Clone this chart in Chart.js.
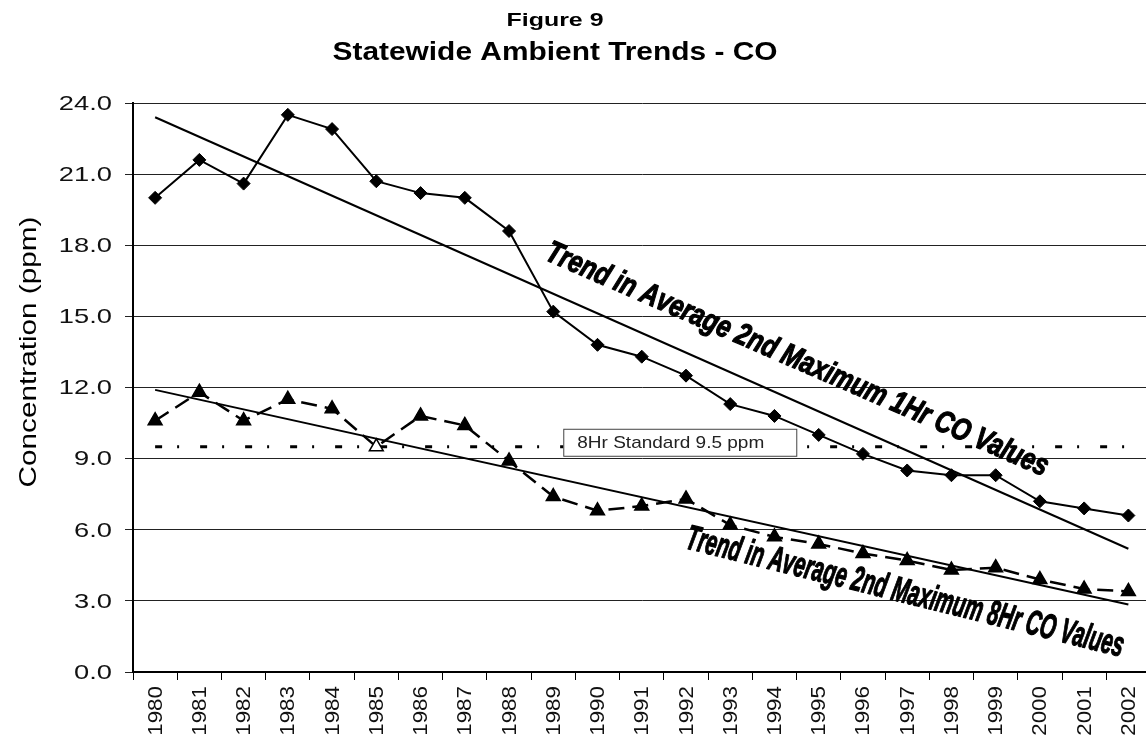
<!DOCTYPE html>
<html>
<head>
<meta charset="utf-8">
<title>Figure 9 - Statewide Ambient Trends - CO</title>
<script src="https://cdn.jsdelivr.net/npm/chart.js@4.4.1/dist/chart.umd.min.js"></script>
<style>
  html, body { margin: 0; padding: 0; background: #fff; overflow: hidden; }
  #wrap { position: relative; width: 1146px; height: 744px; overflow: hidden; }
  canvas { display: block; }
</style>
</head>
<body>
<div id="wrap"><canvas id="coChart" width="1160" height="744"></canvas></div>
<script>
// ── Data ───────────────────────────────────────────
const years = ['1980','1981','1982','1983','1984','1985','1986','1987','1988','1989','1990','1991',
               '1992','1993','1994','1995','1996','1997','1998','1999','2000','2001','2002'];

// average 2nd maximum 1-hr CO (ppm)
const max1hr = [20.0, 21.6, 20.6, 23.5, 22.9, 20.7, 20.2, 20.0, 18.6, 15.2, 13.8, 13.3,
                12.5, 11.3, 10.8, 10.0, 9.2, 8.5, 8.3, 8.3, 7.2, 6.9, 6.6];
// average 2nd maximum 8-hr CO (ppm)
const max8hr = [10.6, 11.8, 10.6, 11.5, 11.1, 9.5, 10.8, 10.4, 8.9, 7.4, 6.8, 7.0,
                7.3, 6.2, 5.7, 5.4, 5.0, 4.7, 4.3, 4.4, 3.9, 3.5, 3.4];

// trend lines: only the end points are given, the line spans the gap
const trend1hr = [23.4, null, null, null, null, null, null, null, null, null, null, null,
                  null, null, null, null, null, null, null, null, null, null, 5.2];
const trend8hr = [11.9, null, null, null, null, null, null, null, null, null, null, null,
                  null, null, null, null, null, null, null, null, null, null, 2.85];
const standard8hr = [9.5, null, null, null, null, null, null, null, null, null, null, null,
                     null, null, null, null, null, null, null, null, null, null, 9.5];

const yTicks = [0, 3, 6, 9, 12, 15, 18, 21, 24];

const titleLines = ['Figure 9', 'Statewide Ambient Trends - CO'];
const yTitle = 'Concentration (ppm)';
const standardLabel = '8Hr Standard 9.5 ppm';
const trendLabel1hr = 'Trend in Average 2nd Maximum 1Hr CO Values';
const trendLabel8hr = 'Trend in Average 2nd Maximum 8Hr CO Values';

const FONT = '"Liberation Sans", Arial, sans-serif';

// ── Text helper ────────────────────────────────────
// draws text with optional rotation and horizontal stretch (width = target length)
function drawText(ctx, text, x, y, o) {
  ctx.save();
  ctx.font = o.font;
  ctx.fillStyle = o.color || '#000';
  ctx.textAlign = o.align || 'center';
  ctx.textBaseline = o.baseline || 'middle';
  let sx = o.sx || 1;
  if (o.width) sx = o.width / ctx.measureText(text).width;
  ctx.translate(x, y);
  if (o.angle) ctx.rotate(o.angle);
  ctx.scale(sx, 1);
  ctx.fillText(text, 0, 0);
  if (o.stroke) {
    ctx.strokeStyle = o.color || '#000';
    ctx.lineWidth = o.stroke;
    ctx.lineJoin = 'round';
    ctx.strokeText(text, 0, 0);
  }
  ctx.restore();
}

const deg = d => d * Math.PI / 180;

// ── Plugin: titles, tick labels, annotations ───────
const figureText = {
  id: 'figureText',
  afterDraw(chart) {
    const ctx = chart.ctx;
    const xs = chart.scales.x;
    const ys = chart.scales.y;

    // titles
    drawText(ctx, titleLines[0], 555, 21, { font: `bold 19px ${FONT}`, width: 97 });
    drawText(ctx, titleLines[1], 555, 53, { font: `bold 25px ${FONT}`, width: 445 });

    // y axis title
    drawText(ctx, yTitle, 29, 352, { font: `24px ${FONT}`, angle: -Math.PI / 2, width: 271 });

    // y tick labels
    yTicks.forEach(v => {
      drawText(ctx, v.toFixed(1), ys.right - 21, ys.getPixelForValue(v) + 1,
               { font: `21px ${FONT}`, align: 'right', sx: 1.3, color: '#111' });
    });

    // x tick labels (vertical)
    years.forEach((yr, i) => {
      drawText(ctx, yr, xs.getPixelForTick(i) + 1, xs.top + 14,
               { font: `20px ${FONT}`, align: 'right', angle: -Math.PI / 2, sx: 1.12, color: '#111' });
    });

    // 8Hr standard label box
    const by = ys.getPixelForValue(9.5);
    const bx = xs.getPixelForTick(9) + 10;
    ctx.save();
    ctx.fillStyle = '#fff';
    ctx.fillRect(bx, by - 18, 233, 27);
    ctx.strokeStyle = '#444';
    ctx.lineWidth = 1;
    ctx.strokeRect(bx + 0.5, by - 17.5, 233, 27);
    ctx.restore();
    drawText(ctx, standardLabel, bx + 14, by - 3,
             { font: `17px ${FONT}`, align: 'left', width: 187, color: '#222' });

    // trend annotations
    drawText(ctx, trendLabel1hr, 797, 360,
             { font: `italic bold 31px ${FONT}`, angle: deg(23.5), width: 545, stroke: 1.2 });
    drawText(ctx, trendLabel8hr, 905, 593,
             { font: `italic bold 35px ${FONT}`, angle: deg(14), width: 450, stroke: 1.2 });
  }
};

// ── Chart ──────────────────────────────────────────
new Chart(document.getElementById('coChart'), {
  type: 'line',
  data: {
    labels: years,
    datasets: [
      {
        label: '1Hr',
        data: max1hr,
        borderColor: '#000',
        borderWidth: 2,
        pointStyle: 'rectRot',
        pointRadius: 6.5,
        pointBackgroundColor: '#000',
        pointBorderColor: '#000',
        pointBorderWidth: 1,
        tension: 0
      },
      {
        label: '8Hr',
        data: max8hr,
        borderColor: '#000',
        borderWidth: 2.5,
        borderDash: [16, 8],
        pointStyle: 'triangle',
        pointRadius: 8,
        pointBackgroundColor: c => years[c.dataIndex] === '1985' ? '#fff' : '#000',
        pointBorderColor: '#000',
        pointBorderWidth: 1.5,
        tension: 0
      },
      {
        label: 'Trend 1Hr',
        data: trend1hr,
        spanGaps: true,
        borderColor: '#000',
        borderWidth: 2,
        pointRadius: 0
      },
      {
        label: 'Trend 8Hr',
        data: trend8hr,
        spanGaps: true,
        borderColor: '#000',
        borderWidth: 2,
        pointRadius: 0
      },
      {
        label: '8Hr Standard',
        data: standard8hr,
        spanGaps: true,
        borderColor: '#000',
        borderWidth: 3,
        borderDash: [7, 15, 2, 21],
        borderCapStyle: 'butt',
        pointRadius: 0
      }
    ]
  },
  options: {
    responsive: false,
    animation: false,
    devicePixelRatio: 1,
    events: [],
    layout: { padding: { left: 125, right: 7, top: 103, bottom: 64 } },
    plugins: {
      legend: { display: false },
      title: { display: false },
      tooltip: { enabled: false }
    },
    scales: {
      x: {
        type: 'category',
        offset: true,
        ticks: { display: false },
        grid: { offset: true, drawOnChartArea: false, drawTicks: true, tickLength: 8, color: '#000', lineWidth: 1 },
        border: { color: '#000', width: 2 }
      },
      y: {
        min: 0,
        max: 24,
        ticks: { display: false, stepSize: 3 },
        grid: { color: '#222', lineWidth: 1, drawTicks: true, tickLength: 8 },
        border: { color: '#000', width: 2 }
      }
    }
  },
  plugins: [figureText]
});
</script>
</body>
</html>
